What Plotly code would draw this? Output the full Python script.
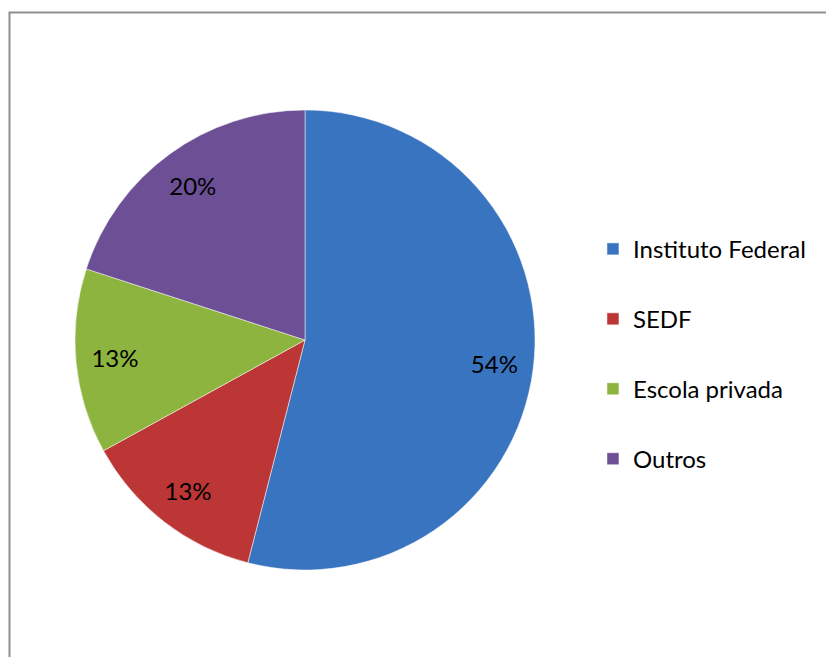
import plotly.graph_objects as go

categorias = ["Instituto Federal", "SEDF", "Escola privada", "Outros"]
percentuais = [54, 13, 13, 20]
cores = ["#3874c0", "#bb3634", "#8db43f", "#6d4f95"]

FONTE = "Lato, 'Open Sans', sans-serif"

# legenda com espaçamento grande: fonte da legenda grande, texto em span menor
rotulos_legenda = [
    f"<span style='font-size:24px;baseline-shift:11px'>{c}</span>" for c in categorias
]

fig = go.Figure()

# pizza principal (cores + legenda)
fig.add_trace(
    go.Pie(
        labels=rotulos_legenda,
        values=percentuais,
        sort=False,
        direction="clockwise",
        rotation=0,
        marker=dict(colors=cores, line=dict(color="white", width=0.5)),
        textinfo="none",
        domain=dict(x=[0, 1], y=[0, 1]),
        hoverinfo="skip",
    )
)

# anel transparente só para posicionar os rótulos de % perto da borda
fig.add_trace(
    go.Pie(
        labels=rotulos_legenda,
        values=percentuais,
        sort=False,
        direction="clockwise",
        rotation=0,
        hole=0.66,
        marker=dict(colors=["rgba(0,0,0,0)"] * len(categorias), line=dict(width=0)),
        textinfo="percent",
        textposition="inside",
        insidetextorientation="horizontal",
        textfont=dict(family=FONTE, size=24, color="black"),
        domain=dict(x=[0, 1], y=[0, 1]),
        showlegend=False,
        hoverinfo="skip",
    )
)

fig.update_layout(
    width=834,
    height=657,
    margin=dict(l=67, r=307, t=102, b=95),
    paper_bgcolor="white",
    plot_bgcolor="white",
    font=dict(family=FONTE, color="black"),
    showlegend=True,
    legend=dict(
        xref="container",
        yref="container",
        x=0.7014,
        y=0.4735,
        xanchor="left",
        yanchor="middle",
        font=dict(family=FONTE, size=51.5, color="black"),
        bgcolor="rgba(0,0,0,0)",
    ),
    shapes=[
        dict(
            type="rect",
            xref="paper",
            yref="paper",
            x0=-0.1424,
            x1=3,
            y0=-0.5,
            y1=1.212,
            line=dict(color="#8e8e8e", width=2),
            fillcolor="rgba(0,0,0,0)",
            layer="below",
        )
    ],
)

fig.write_html("out.html")
